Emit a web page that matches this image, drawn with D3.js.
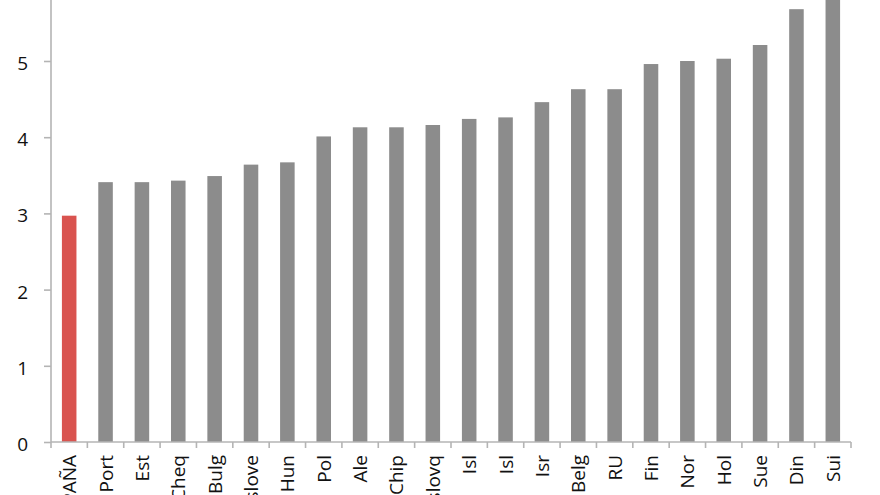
<!DOCTYPE html>
<html>
  <head>
    <meta charset="utf-8" />
    <script src="https://d3js.org/d3.v7.min.js"></script>
    <style>
      body { margin: 0; background: #fff; }
      .axis path, .axis line { stroke: #b4b4b4; stroke-width: 1.6; }
      .axis text { font-family: "Open Sans", "Liberation Sans", sans-serif; fill: #111; }
    </style>
  </head>
  <body>
    <svg id="chart" width="880" height="495"></svg>
    <script>
      // countries (cut off at the bottom of the picture, like the original)
      const countries = ["ESPAÑA", "Port", "Est", "R.Cheq", "Bulg", "Eslove", "Hun", "Pol",
        "Ale", "Chip", "Eslovq", "Isl", "Isl", "Isr", "Belg", "RU", "Fin", "Nor", "Hol",
        "Sue", "Din", "Sui"];
      const values = [2.97, 3.41, 3.41, 3.43, 3.49, 3.64, 3.67, 4.01, 4.13, 4.13, 4.16,
        4.24, 4.26, 4.46, 4.63, 4.63, 4.96, 5.0, 5.03, 5.21, 5.68, 5.95];
      const yTicks = [0, 1, 2, 3, 4, 5];
      const highlight = "ESPAÑA";

      const svg = d3.select("#chart");
      const x0 = 51, x1 = 851, yBase = 442;

      const x = d3.scaleBand()
        .domain(d3.range(countries.length))
        .range([x0, x1])
        .paddingInner(0.6)
        .paddingOuter(0.3);

      const y = d3.scaleLinear().domain([0, 5]).range([yBase, 61]);

      // bars
      svg.selectAll("rect.bar")
        .data(values)
        .join("rect")
        .attr("class", "bar")
        .attr("x", (d, i) => x(i))
        .attr("width", x.bandwidth())
        .attr("y", d => y(d))
        .attr("height", d => y(0) - y(d))
        .attr("fill", (d, i) => countries[i] === highlight ? "#d9534f" : "#8c8c8c");

      // y axis
      const yAxis = svg.append("g")
        .attr("class", "axis")
        .attr("transform", `translate(${x0},0)`)
        .call(d3.axisLeft(y).tickValues(yTicks).tickSize(7).tickPadding(16).tickFormat(d3.format("d")));
      yAxis.select(".domain").attr("d", `M0,${yBase}V-10`);
      yAxis.selectAll("text").style("font-size", "19px").attr("dy", "0.45em");

      // x axis: ticks between the categories
      const xAxis = svg.append("g")
        .attr("class", "axis")
        .attr("transform", `translate(0,${yBase})`);
      xAxis.append("path")
        .attr("fill", "none")
        .attr("d", `M${x0},0H${x1}`);
      const bounds = d3.range(countries.length + 1).map(i => x0 + (x1 - x0) * i / countries.length);
      xAxis.selectAll("line.tk")
        .data(bounds)
        .join("line")
        .attr("class", "tk")
        .attr("x1", d => d).attr("x2", d => d)
        .attr("y1", 0).attr("y2", 6);
      xAxis.selectAll("text")
        .data(countries)
        .join("text")
        .attr("transform", (d, i) => `translate(${x(i) + x.bandwidth() / 2 + 7},13) rotate(-90)`)
        .attr("text-anchor", "end")
        .style("font-size", "19px")
        .text(d => d);
    </script>
  </body>
</html>
